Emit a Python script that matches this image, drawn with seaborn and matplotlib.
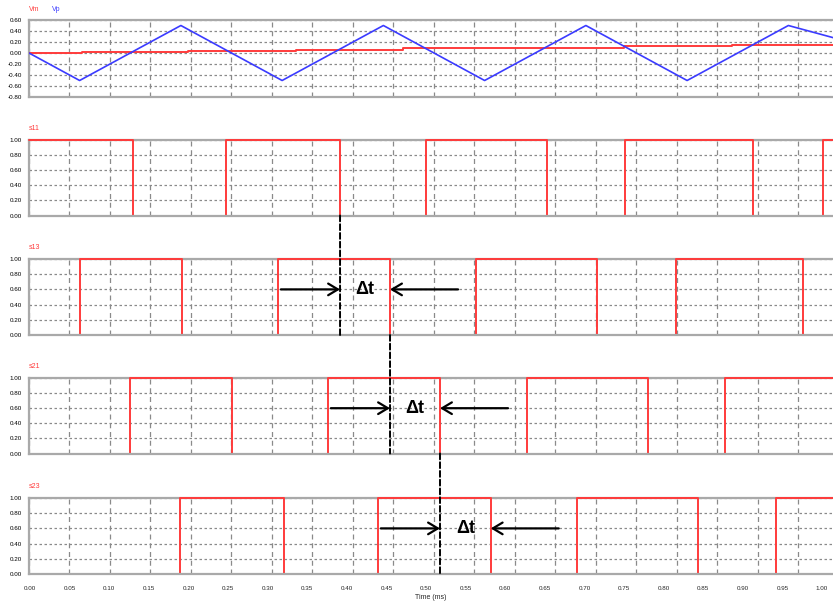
import numpy as np
import pandas as pd
import matplotlib
matplotlib.use("Agg")
import matplotlib.pyplot as plt
from matplotlib.patches import ConnectionPatch
from matplotlib.ticker import MultipleLocator, FixedLocator, FormatStrFormatter
import seaborn as sns

# Triangular carrier Vp (vertices, time in ms)
vp_time = [0.0, 0.0625, 0.1875, 0.3125, 0.4375, 0.5625, 0.6875, 0.8125, 0.9375, 1.0]
vp_value = [0.0, -0.5, 0.5, -0.5, 0.5, -0.5, 0.5, -0.5, 0.5, 0.25]

# Sampled modulating signal Vm (held between sampling instants)
vm_time = [0.0, 0.0658, 0.1967, 0.3293, 0.4614, 0.5951, 0.7346, 0.8675, 1.0]
vm_value = [0.0, 0.025, 0.045, 0.06, 0.085, 0.10, 0.12, 0.14, 0.155]

# Gate signals: initial state and switching instants (ms)
s11_start = 1
s11_edges = [0.1281, 0.2432, 0.3840, 0.4905, 0.6391, 0.7362, 0.8942, 0.9806]
s13_start = 0
s13_edges = [0.0630, 0.1893, 0.3070, 0.4457, 0.5519, 0.7012, 0.7988, 0.9556]
s21_start = 0
s21_edges = [0.1247, 0.2506, 0.3691, 0.5074, 0.6144, 0.7638, 0.8593]
s23_start = 0
s23_edges = [0.1870, 0.3148, 0.4312, 0.5700, 0.6762, 0.8256, 0.9219]

# Time-axis labels (ms)
time_labels = [round(0.05 * k, 2) for k in range(21)]

T_END = 1.0
X_VIEW = 0.9926

RED = "#ff3b3b"
BLUE = "#3b3bff"
FRAME = "#a9a9a9"
GRID = "#8a8a8a"

sns.set_theme(style="white")
plt.rcParams["font.family"] = ["Liberation Sans", "DejaVu Sans"]
plt.rcParams["axes.unicode_minus"] = False

W, H = 833, 603
fig = plt.figure(figsize=(W / 100, H / 100), dpi=100)


def add_panel(top_px, bottom_px):
    left = 29 / W
    ax = fig.add_axes([left, 1 - bottom_px / H, 1 - left, (bottom_px - top_px) / H])
    return ax


def style_panel(ax, ymin, ymax):
    ax.set_xlim(0, X_VIEW)
    ax.set_ylim(ymin, ymax)
    ax.xaxis.set_major_locator(MultipleLocator(0.05))
    ax.yaxis.set_major_locator(MultipleLocator(0.2))
    ax.yaxis.set_major_formatter(FormatStrFormatter("%.2f"))
    ax.tick_params(axis="y", length=0, pad=5, labelsize=4.5, colors="black")
    ax.tick_params(axis="x", length=0, labelbottom=False)
    ax.grid(True, axis="x", color=GRID, lw=0.9, linestyle=(0, (4, 3)))
    ax.grid(True, axis="y", color=GRID, lw=0.9, linestyle=(0, (2, 2)))
    ax.set_axisbelow(True)
    for side in ("top", "bottom", "left"):
        ax.spines[side].set_color(FRAME)
        ax.spines[side].set_linewidth(1.6)
        ax.spines[side].set_visible(True)
    ax.spines["right"].set_visible(False)
    ax.spines["bottom"].set_zorder(4)
    ax.set_xlabel("")
    ax.set_ylabel("")


def step_frame(start, edges):
    t = [0.0] + list(edges) + [T_END]
    v = [(start + i) % 2 for i in range(len(edges) + 1)]
    v.append(v[-1])
    return pd.DataFrame({"t": t, "v": v})


# --- Vm / Vp panel ---
ax0 = add_panel(20, 97)
vp = pd.DataFrame({"t": vp_time, "v": vp_value})
vm = pd.DataFrame({"t": vm_time, "v": vm_value})
sns.lineplot(data=vm, x="t", y="v", ax=ax0, color=RED, lw=1.4,
             drawstyle="steps-post", estimator=None, zorder=3)
sns.lineplot(data=vp, x="t", y="v", ax=ax0, color=BLUE, lw=1.2,
             estimator=None, zorder=3)
style_panel(ax0, -0.8, 0.6)
ax0.annotate("Vm", xy=(0, 1), xycoords="axes fraction", xytext=(0, 5),
             textcoords="offset points", color=RED, fontsize=5, va="bottom")
ax0.annotate("Vp", xy=(0, 1), xycoords="axes fraction", xytext=(16.5, 5),
             textcoords="offset points", color=BLUE, fontsize=5, va="bottom")

# --- gate signal panels ---
panel_px = [(140, 215.5), (259, 335), (378, 453.5), (498, 574)]
gates = [("s11", s11_start, s11_edges), ("s13", s13_start, s13_edges),
         ("s21", s21_start, s21_edges), ("s23", s23_start, s23_edges)]
axes = {}
for (top, bot), (name, start, edges) in zip(panel_px, gates):
    ax = add_panel(top, bot)
    sns.lineplot(data=step_frame(start, edges), x="t", y="v", ax=ax, color=RED,
                 lw=1.4, drawstyle="steps-post", estimator=None, zorder=3,
                 clip_on=False)
    style_panel(ax, 0, 1)
    ax.annotate(name, xy=(0, 1), xycoords="axes fraction", xytext=(0, 6),
                textcoords="offset points", color=RED, fontsize=5, va="bottom")
    axes[name] = ax

# time labels on the bottom panel (label scale of the scope window)
ax_last = axes["s23"]
time_axis = ax_last.secondary_xaxis(
    "bottom",
    functions=(lambda x: (810 * x - 1) / 792, lambda s: (792 * s + 1) / 810))
time_axis.xaxis.set_major_locator(FixedLocator(time_labels))
time_axis.xaxis.set_major_formatter(FormatStrFormatter("%.2f"))
time_axis.tick_params(length=0, pad=9, labelsize=4.5)
time_axis.spines["bottom"].set_visible(False)
time_axis.set_xlabel("Time (ms)", fontsize=5, labelpad=1.5)

# delay markers between consecutive gate signals
links = [("s11", "s13", s11_edges[2], s13_edges[3]),
         ("s13", "s21", s13_edges[3], s21_edges[3]),
         ("s21", "s23", s21_edges[3], s23_edges[3])]
for upper, lower, t_ref, t_edge in links:
    con = ConnectionPatch(xyA=(t_ref, 0), coordsA=axes[upper].transData,
                          xyB=(t_ref, 0), coordsB=axes[lower].transData,
                          color="black", lw=1.4, linestyle=(0, (3, 1.5)),
                          zorder=6)
    fig.add_artist(con)
    ax = axes[lower]
    arrow = dict(arrowstyle="->,head_length=0.5,head_width=0.3", lw=1.6,
                 color="black", mutation_scale=14, shrinkA=0, shrinkB=0)
    ax.annotate("", xy=(t_ref, 0.6), xytext=(t_ref - 0.073, 0.6),
                arrowprops=arrow, zorder=6)
    ax.annotate("", xy=(t_edge, 0.6), xytext=(t_edge + 0.084, 0.6),
                arrowprops=arrow, zorder=6)
    ax.text((t_ref + t_edge) / 2, 0.6, "Δt", fontsize=13, fontweight="bold",
            ha="center", va="center", color="black", zorder=6)

fig.savefig("out.png", dpi=100)
